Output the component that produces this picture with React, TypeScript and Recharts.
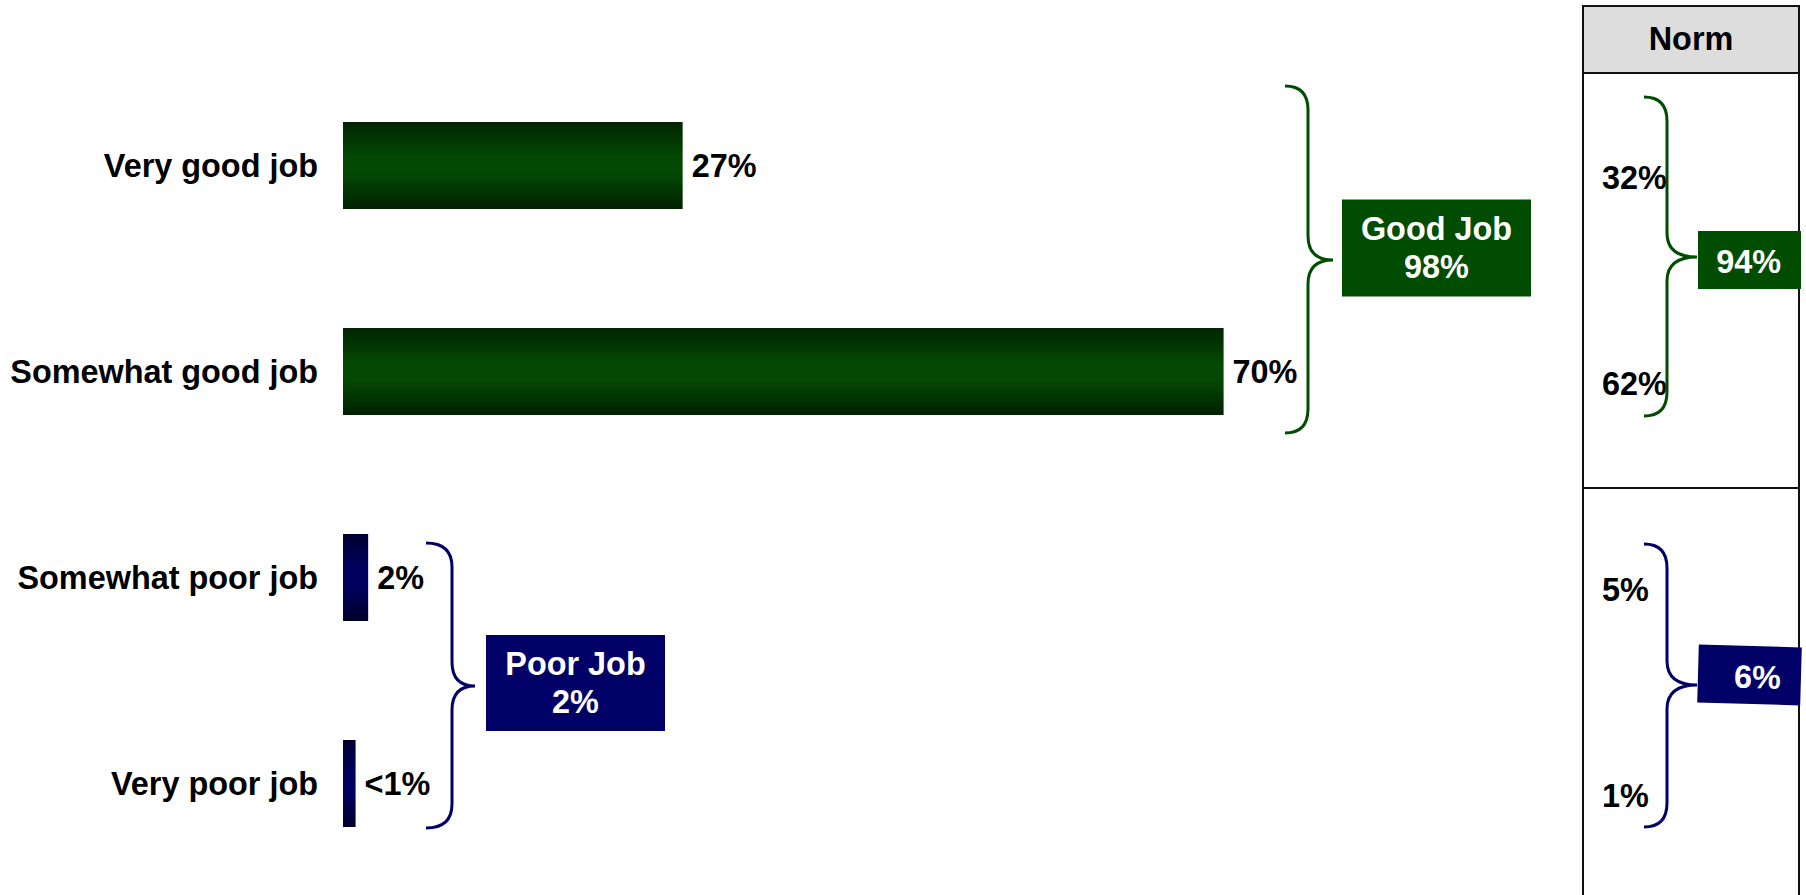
import React from 'react';
import { BarChart, Bar, XAxis, YAxis, Cell, LabelList } from 'recharts';

const categories = ['Very good job', 'Somewhat good job', 'Somewhat poor job', 'Very poor job'];
const values = [27, 70, 2, 1];
const valueLabels = ['27%', '70%', '2%', '<1%'];
const tones = ['good', 'good', 'poor', 'poor'];

const normValues = [32, 62, 5, 1];

const groupNames = ['Good Job', 'Poor Job'];
const groupTotals = [98, 2];
const normTotals = [94, 6];
const groupMembers = [[0, 1], [2, 3]];

const FONT = '"Liberation Sans", Arial, Helvetica, sans-serif';
const FS = 32.4;
const GREEN = '#004c00';
const BLUE = '#000066';

const W = 1806;
const H = 895;
const MARGIN = { top: 62, right: 205, bottom: 9, left: 0 };
const AXIS_W = 343;
const STEP = (H - MARGIN.top - MARGIN.bottom) / categories.length;
const bandCenter = (i: number) => MARGIN.top + STEP * (i + 0.5);

const rows = categories.map((name, i) => ({
  name,
  value: values[i],
  label: valueLabels[i],
  tone: tones[i],
}));

// brace / box placement for each group, relative to its bands
const groupLayout = [
  { color: GREEN, tipX: 1285, lineX: 1308, pointX: 1333, topOff: -79, bottomOff: 62, pointOff: -8, boxX: 1342, boxW: 189, boxH: 97, boxOff: -20 },
  { color: BLUE, tipX: 426, lineX: 452, pointX: 475, topOff: -34, bottomOff: 45, pointOff: 6, boxX: 486, boxW: 179, boxH: 96, boxOff: 3 },
];
const normLayout = [
  { color: GREEN, topOff: -68, bottomOff: 45, pointOff: -11, boxOff: 3, tilt: 0 },
  { color: BLUE, topOff: -33, bottomOff: 44, pointOff: 5, boxOff: -10, tilt: 1.6 },
];

function bracePath(tipX: number, lineX: number, pointX: number, top: number, bottom: number, pointY: number, r = 24) {
  return `M${tipX},${top} Q${lineX},${top} ${lineX},${top + r} L${lineX},${pointY - r} ` +
    `Q${lineX},${pointY} ${pointX},${pointY} Q${lineX},${pointY} ${lineX},${pointY + r} ` +
    `L${lineX},${bottom - r} Q${lineX},${bottom} ${tipX},${bottom}`;
}

const textStyle = { fontFamily: FONT, fontWeight: 700, fontSize: FS } as const;

function Overlay() {
  const panelX = 1583;
  const panelW = 216;
  return (
    <svg width={W} height={H} style={{ position: 'absolute', left: 0, top: 0, pointerEvents: 'none' }}>
      {/* group braces + totals */}
      {groupMembers.map((m, g) => {
        const L = groupLayout[g];
        const top = bandCenter(m[0]) + L.topOff;
        const bottom = bandCenter(m[m.length - 1]) + L.bottomOff;
        const mid = (bandCenter(m[0]) + bandCenter(m[m.length - 1])) / 2;
        const pointY = mid + L.pointOff;
        const boxY = mid + L.boxOff - L.boxH / 2;
        const cx = L.boxX + L.boxW / 2;
        const cy = boxY + L.boxH / 2;
        return (
          <g key={g}>
            <path d={bracePath(L.tipX, L.lineX, L.pointX, top, bottom, pointY)} fill="none" stroke={L.color} strokeWidth={3} />
            <rect x={L.boxX} y={boxY} width={L.boxW} height={L.boxH} fill={L.color} />
            <text x={cx} y={cy - 19} textAnchor="middle" dominantBaseline="central" fill="#fff" {...textStyle}>{groupNames[g]}</text>
            <text x={cx} y={cy + 19} textAnchor="middle" dominantBaseline="central" fill="#fff" {...textStyle}>{`${groupTotals[g]}%`}</text>
          </g>
        );
      })}

      {/* Norm panel */}
      <rect x={panelX} y={6} width={panelW} height={67} fill="#dddddd" />
      <rect x={panelX} y={6} width={panelW} height={H} fill="none" stroke="#111" strokeWidth={2} />
      <line x1={panelX} x2={panelX + panelW} y1={73} y2={73} stroke="#111" strokeWidth={2} />
      <line x1={panelX} x2={panelX + panelW} y1={488} y2={488} stroke="#111" strokeWidth={2} />
      <text x={panelX + panelW / 2} y={39} textAnchor="middle" dominantBaseline="central" fill="#000" {...textStyle}>Norm</text>

      {normValues.map((v, i) => (
        <text key={i} x={1602} y={bandCenter(i) + 13} dominantBaseline="central" fill="#000" {...textStyle}>{`${v}%`}</text>
      ))}

      {groupMembers.map((m, g) => {
        const L = normLayout[g];
        const top = bandCenter(m[0]) + L.topOff;
        const bottom = bandCenter(m[m.length - 1]) + L.bottomOff;
        const mid = (bandCenter(m[0]) + bandCenter(m[m.length - 1])) / 2;
        const pointY = mid + L.pointOff;
        const cy = pointY + L.boxOff;
        return (
          <g key={g}>
            <path d={bracePath(1644, 1667, 1697, top, bottom, pointY)} fill="none" stroke={L.color} strokeWidth={3} />
            <g transform={`rotate(${L.tilt} 1750 ${cy})`}>
              <rect x={1698} y={cy - 29} width={103} height={58} fill={L.color} />
              <text x={1781} y={cy + 2} textAnchor="end" dominantBaseline="central" fill="#fff" {...textStyle}>{`${normTotals[g]}%`}</text>
            </g>
          </g>
        );
      })}
    </svg>
  );
}

export default function App() {
  return (
    <div style={{ position: 'absolute', left: 0, top: 0, width: W, height: H, background: '#fff', overflow: 'hidden' }}>
      <BarChart width={W} height={H} data={rows} layout="vertical" margin={MARGIN} barSize={87}>
        <defs>
          <linearGradient id="gradGood" x1="0" y1="0" x2="0" y2="1">
            <stop offset="0%" stopColor="#012501" />
            <stop offset="40%" stopColor="#034803" />
            <stop offset="60%" stopColor="#034803" />
            <stop offset="100%" stopColor="#012001" />
          </linearGradient>
          <linearGradient id="gradPoor" x1="0" y1="0" x2="0" y2="1">
            <stop offset="0%" stopColor="#000030" />
            <stop offset="40%" stopColor="#000060" />
            <stop offset="60%" stopColor="#000060" />
            <stop offset="100%" stopColor="#00002c" />
          </linearGradient>
        </defs>
        <XAxis type="number" domain={[0, 100]} hide />
        <YAxis
          type="category"
          dataKey="name"
          width={AXIS_W}
          axisLine={false}
          tickLine={false}
          tickSize={0}
          tickMargin={25}
          interval={0}
          tick={{ fill: '#000', fontSize: FS, fontWeight: 700, fontFamily: FONT }}
        />
        <Bar dataKey="value" isAnimationActive={false}>
          {rows.map((r, i) => (
            <Cell key={i} fill={r.tone === 'good' ? 'url(#gradGood)' : 'url(#gradPoor)'} />
          ))}
          <LabelList
            dataKey="label"
            position="right"
            offset={9}
            fill="#000"
            fontSize={FS}
            fontWeight={700}
            fontFamily={FONT}
          />
        </Bar>
      </BarChart>
      <Overlay />
    </div>
  );
}
